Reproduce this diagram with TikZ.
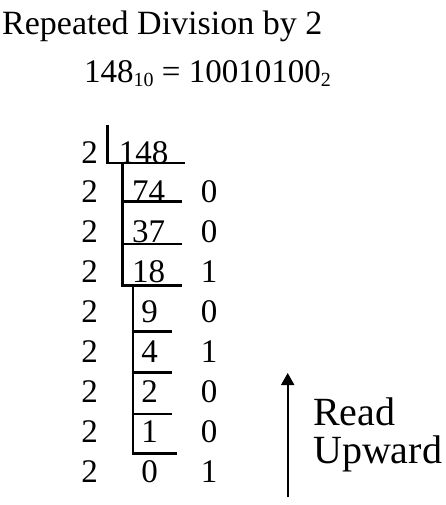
\documentclass[tikz,border=0pt]{standalone}
\usepackage{fontspec}
\setmainfont{Liberation Serif}
\usetikzlibrary{arrows.meta, positioning}

\begin{document}
\begin{tikzpicture}[
    x=1pt, y=-1pt,
    title/.style={font=\fontsize{34}{34}\selectfont, inner sep=0pt, anchor=base west},
    num/.style={font=\fontsize{33}{33}\selectfont, inner sep=0pt, anchor=base},
    note/.style={font=\fontsize{40}{40}\selectfont, inner sep=0pt, anchor=base west},
    bar/.style={line width=2.8pt},
    arrow/.style={-{Triangle[length=12pt, width=13pt]}, line width=2pt}
]
    \useasboundingbox (0,0) rectangle (445,505);

    % Title
    \node[title] (head) at (2, 35) {Repeated Division by 2};
    \node[num, anchor=base west] (eq) at (84, 83)
        {148\raisebox{-4pt}{\fontsize{20}{20}\selectfont 10} = 10010100\raisebox{-4pt}{\fontsize{20}{20}\selectfont 2}};

    % Divisors
    \node[num] (d1) at (89.5, 163) {2};
    \node[num] (d2) at (89.5, 202.9) {2};
    \node[num] (d3) at (89.5, 242.8) {2};
    \node[num] (d4) at (89.5, 282.7) {2};
    \node[num] (d5) at (89.5, 322.6) {2};
    \node[num] (d6) at (89.5, 362.5) {2};
    \node[num] (d7) at (89.5, 402.4) {2};
    \node[num] (d8) at (89.5, 442.3) {2};
    \node[num] (d9) at (89.5, 482.2) {2};

    % Quotients
    \node[num] (q1) at (143.5, 163) {148};
    \node[num] (q2) at (148.5, 202.9) {74};
    \node[num] (q3) at (148.5, 242.8) {37};
    \node[num] (q4) at (148.5, 282.7) {18};
    \node[num] (q5) at (149.5, 322.6) {9};
    \node[num] (q6) at (149.5, 362.5) {4};
    \node[num] (q7) at (149.5, 402.4) {2};
    \node[num] (q8) at (149.5, 442.3) {1};
    \node[num] (q9) at (149.5, 482.2) {0};

    % Remainders
    \node[num] (r2) at (209, 202.9) {0};
    \node[num] (r3) at (209, 242.8) {0};
    \node[num] (r4) at (209, 282.7) {1};
    \node[num] (r5) at (209, 322.6) {0};
    \node[num] (r6) at (209, 362.5) {1};
    \node[num] (r7) at (209, 402.4) {0};
    \node[num] (r8) at (209, 442.3) {0};
    \node[num] (r9) at (209, 482.2) {1};

    % Division brackets
    \draw[bar] (107.5, 125) -- (107.5, 163) -- (185, 163);
    \draw[bar] (122.5, 163) -- (122.5, 285.7) -- (181.7, 285.7);
    \draw[bar] (122.5, 201.7) -- (181.7, 201.7);
    \draw[bar] (122.5, 244) -- (181.7, 244);
    \draw[bar] (133, 285.7) -- (133, 453.3) -- (176.7, 453.3);
    \draw[bar] (133, 331.7) -- (171.7, 331.7);
    \draw[bar] (133, 372.3) -- (171.7, 372.3);
    \draw[bar] (133, 414) -- (171.7, 414);

    % Read upward
    \coordinate (low) at (287.7, 497);
    \coordinate (high) at (287.7, 373);
    \draw[arrow] (low) -- (high);
    \node[note] (read) at (313, 425) {Read};
    \node[note] (upward) at (313, 463.3) {Upward};
\end{tikzpicture}
\end{document}
